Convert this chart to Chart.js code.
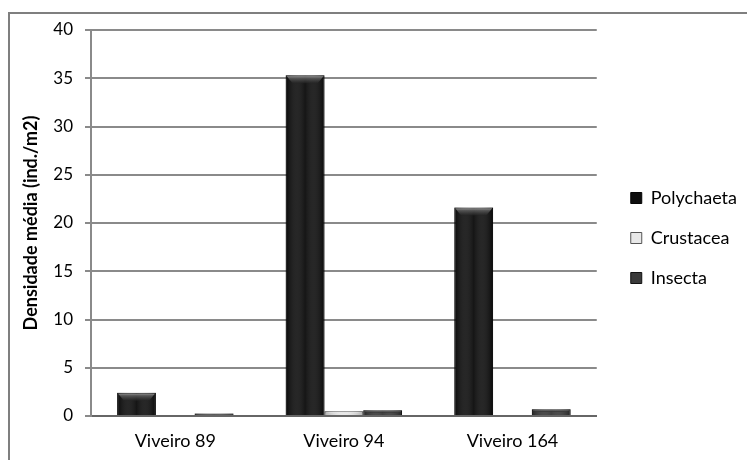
<!DOCTYPE html>
<html>
<head>
<meta charset="utf-8">
<script src="https://cdn.jsdelivr.net/npm/chart.js@4"></script>
<style>
  html, body { margin: 0; padding: 0; background: #fff; }
  #wrap { position: relative; width: 747px; height: 460px; }
  #frame { position: absolute; left: 8px; top: 12px; width: 760px; height: 460px;
           border-left: 2px solid #7f7f7f; border-top: 2px solid #7f7f7f; box-sizing: border-box; }
  canvas { position: absolute; left: 0; top: 0; }
</style>
</head>
<body>
<div id="wrap">
  <div id="frame"></div>
  <canvas id="c" width="747" height="460"></canvas>
</div>
<script>
// Mean density per pond and taxon
const categories = ['Viveiro 89', 'Viveiro 94', 'Viveiro 164'];
const polychaeta = [2.4, 35.3, 21.6];
const crustacea  = [0, 0.5, 0];
const insecta    = [0.25, 0.6, 0.7];
const seriesNames = ['Polychaeta', 'Crustacea', 'Insecta'];
const yTitle = 'Densidade média (ind./m2)';

const FONT = 'Lato, "Open Sans", sans-serif';

// Adds the bevelled top and soft side shading to each bar
const bevelPlugin = {
  id: 'bevel',
  afterDatasetsDraw(chart) {
    const ctx = chart.ctx;
    chart.data.datasets.forEach((ds, di) => {
      const meta = chart.getDatasetMeta(di);
      meta.data.forEach(bar => {
        const p = bar.getProps(['x', 'y', 'base', 'width'], true);
        const l = p.x - p.width / 2, r = p.x + p.width / 2;
        const top = p.y, bottom = p.base;
        const h = bottom - top;
        if (h < 0.5) return;
        ctx.save();
        // side shading
        const g = ctx.createLinearGradient(l, 0, r, 0);
        if (di === 1) {
          g.addColorStop(0, 'rgba(0,0,0,0.25)');
          g.addColorStop(0.5, 'rgba(255,255,255,0.0)');
          g.addColorStop(1, 'rgba(0,0,0,0.25)');
        } else {
          g.addColorStop(0, 'rgba(0,0,0,0.4)');
          g.addColorStop(0.5, 'rgba(255,255,255,0.03)');
          g.addColorStop(1, 'rgba(0,0,0,0.4)');
        }
        ctx.fillStyle = g;
        ctx.fillRect(l, top, r - l, h);
        // bevelled top
        const bh = Math.min(8, h * 0.5);
        const inset = Math.min(6, p.width * 0.15);
        const tg = ctx.createLinearGradient(0, top, 0, top + bh);
        if (di === 1) {
          tg.addColorStop(0, 'rgba(255,255,255,0.95)');
          tg.addColorStop(1, 'rgba(220,220,220,0.6)');
        } else {
          tg.addColorStop(0, 'rgba(175,175,175,0.95)');
          tg.addColorStop(0.35, 'rgba(95,95,95,0.85)');
          tg.addColorStop(1, 'rgba(35,35,35,0.6)');
        }
        ctx.beginPath();
        ctx.moveTo(l + 1, top + 1);
        ctx.lineTo(r - 1, top + 1);
        ctx.lineTo(r - 1 - inset, top + bh);
        ctx.lineTo(l + 1 + inset, top + bh);
        ctx.closePath();
        ctx.fillStyle = tg;
        ctx.fill();
        ctx.restore();
      });
    });
  }
};

// Nudges the legend column a little right and up from its default slot
const legendNudge = {
  id: 'legendNudge',
  afterLayout(chart) {
    const lg = chart.legend;
    if (!lg) return;
    lg.left += 12; lg.right += 12;
    lg.top -= 7; lg.bottom -= 7;
  }
};

new Chart(document.getElementById('c'), {
  type: 'bar',
  data: {
    labels: categories,
    datasets: [
      { label: seriesNames[0], data: polychaeta, backgroundColor: '#0e0e0e', borderColor: '#050505', borderWidth: 1 },
      { label: seriesNames[1], data: crustacea,  backgroundColor: '#e8e8e8', borderColor: '#555', borderWidth: 1 },
      { label: seriesNames[2], data: insecta,    backgroundColor: '#3a3a3a', borderColor: '#111', borderWidth: 1 }
    ]
  },
  options: {
    responsive: false,
    animation: false,
    layout: { padding: { left: 20, top: 30, right: 12, bottom: 0 } },
    datasets: { bar: { categoryPercentage: 0.69, barPercentage: 1.0 } },
    plugins: {
      tooltip: { enabled: false },
      legend: {
        position: 'right',
        labels: {
          font: { family: FONT, size: 18 },
          color: '#000',
          boxWidth: 11,
          boxHeight: 11,
          padding: 22
        }
      }
    },
    scales: {
      x: {
        grid: { display: false, drawTicks: false },
        border: { color: '#666', width: 2 },
        ticks: { font: { family: FONT, size: 18 }, color: '#000', padding: 14 },
        afterFit(s) { s.height = 44; }
      },
      y: {
        min: 0, max: 40,
        ticks: { stepSize: 5, font: { family: FONT, size: 17 }, color: '#000', padding: 12 },
        grid: { color: '#8a8a8a', lineWidth: 2, tickLength: 6 },
        border: { color: '#8a8a8a', width: 2 },
        title: { display: true, text: yTitle, font: { family: FONT, size: 18, weight: 'bold' }, color: '#000', padding: 0 },
        afterFit(s) { s.width = 71; }
      }
    }
  },
  plugins: [bevelPlugin, legendNudge]
});
</script>
</body>
</html>
